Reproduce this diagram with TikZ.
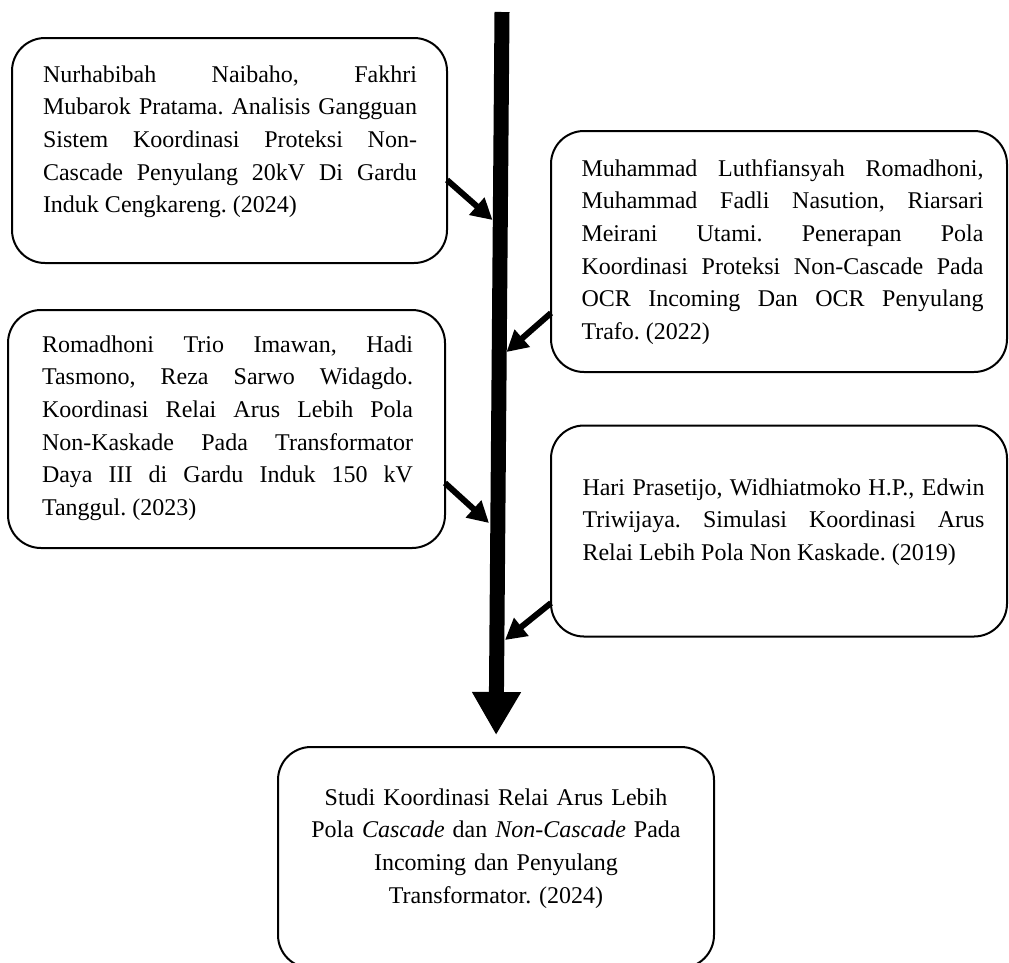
\documentclass[tikz,border=0pt]{standalone}
\usepackage{fontspec}
\setmainfont{Liberation Serif}
\usetikzlibrary{arrows.meta}
\frenchspacing
\newcommand{\jblock}[2]{\parbox[t]{#1}{\fontsize{24}{32.7}\selectfont\frenchspacing
  \tolerance=10000 \hyphenpenalty=10000 \exhyphenpenalty=10000 \parindent=0pt
  \parfillskip=0pt plus 1fil\relax #2}}
\begin{document}
\begin{tikzpicture}[x=1pt,y=-1pt,
  box/.style={draw=black, line width=2pt, rounded corners=33pt, inner sep=0pt, outer sep=0pt},
  txt/.style={inner sep=0pt, outer sep=0pt, anchor=base west},
  ctxt/.style={inner sep=0pt, outer sep=0pt, anchor=base, align=center, text width=430pt,
    font=\fontsize{24}{32.7}\selectfont\frenchspacing},
  feed/.style={line width=6pt, -{Triangle[length=21pt,width=22pt]}},
  spine/.style={line width=15pt, -{Triangle[length=43pt,width=46pt]}}]
\clip (0,0) rectangle (1009,962);
% boxes
\node[box, minimum width=435pt, minimum height=225pt] (b1) at (229.5,150.5) {};
\node[box, minimum width=456pt, minimum height=241pt] (b2) at (779,251.5) {};
\node[box, minimum width=437pt, minimum height=238pt] (b3) at (226.5,429) {};
\node[box, minimum width=456pt, minimum height=211pt] (b4) at (779,531) {};
\node[box, minimum width=436pt, minimum height=221pt] (b5) at (496,857.5) {};
% texts
\node[txt] (t1) at (43,82) {\jblock{374pt}{Nurhabibah Naibaho, Fakhri\linebreak Mubarok Pratama. Analisis Gangguan\linebreak Sistem Koordinasi Proteksi Non-\linebreak Cascade Penyulang 20kV Di Gardu\linebreak Induk Cengkareng. (2024)}};
\node[txt] (t2) at (581.5,176) {\jblock{402pt}{Muhammad Luthfiansyah Romadhoni,\linebreak Muhammad Fadli Nasution, Riarsari\linebreak Meirani Utami. Penerapan Pola\linebreak Koordinasi Proteksi Non-Cascade Pada\linebreak OCR Incoming Dan OCR Penyulang\linebreak Trafo. (2022)}};
\node[txt] (t3) at (42,352) {\jblock{371pt}{Romadhoni Trio Imawan, Hadi\linebreak Tasmono, Reza Sarwo Widagdo.\linebreak Koordinasi Relai Arus Lebih Pola\linebreak Non-Kaskade Pada Transformator\linebreak Daya III di Gardu Induk 150 kV\linebreak Tanggul. (2023)}};
\node[txt] (t4) at (582.5,495) {\jblock{402pt}{Hari Prasetijo, Widhiatmoko H.P., Edwin\linebreak Triwijaya. Simulasi Koordinasi Arus\linebreak Relai Lebih Pola Non Kaskade. (2019)}};
\node[ctxt] (t5) at (496,805) {Studi Koordinasi Relai Arus Lebih\\ Pola \textit{Cascade} dan \textit{Non-Cascade} Pada\\ Incoming dan Penyulang\\ Transformator. (2024)};
% spine
\coordinate (top) at (502,12);
\draw[spine, shorten >=12pt] (top) -- (b5.north);
% feeder arrows
\coordinate (e1) at (492.5,220);
\coordinate (e2) at (506.5,352);
\coordinate (e3) at (489,523);
\coordinate (e4) at (505,640);
\draw[feed] (b1.east |- 0,180) -- (e1);
\draw[feed] (b2.west |- 0,313) -- (e2);
\draw[feed] (b3.east |- 0,483) -- (e3);
\draw[feed] (b4.west |- 0,603) -- (e4);
\end{tikzpicture}
\end{document}
